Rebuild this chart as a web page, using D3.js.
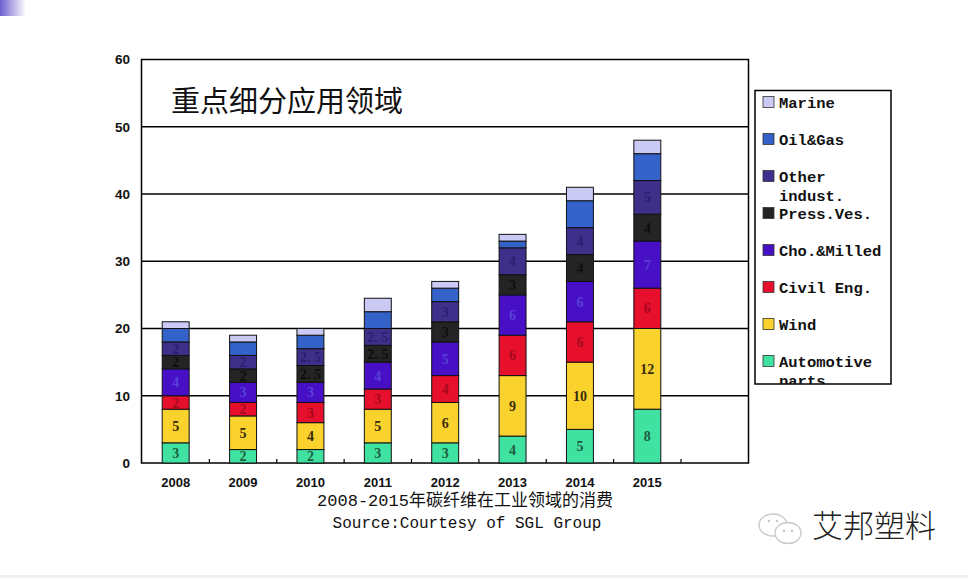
<!DOCTYPE html>
<html><head><meta charset="utf-8">
<script src="https://cdn.jsdelivr.net/npm/d3@7"></script>
<style>body{margin:0;background:#fff}svg{display:block}</style>
</head><body>
<svg id="c" width="968" height="578"></svg>
<script>
const years = ["2008","2009","2010","2011","2012","2013","2014","2015"];
const seriesNames = ["Automotive parts","Wind","Civil Eng.","Cho.&Milled","Press.Ves.","Other indust.","Oil&Gas","Marine"];
const automotive = [3,2,2,3,3,4,5,8];
const wind       = [5,5,4,5,6,9,10,12];
const civil      = [2,2,3,3,4,6,6,6];
const chopped    = [4,3,3,4,5,6,6,7];
const pressVes   = [2,2,2.5,2.5,3,3,4,4];
const otherInd   = [2,2,2.5,2.5,3,4,4,5];
const oilGas     = [2,2,2,2.5,2,1,4,4];
const marine     = [1,1,1,2,1,1,2,2];
const yTicks = [0,10,20,30,40,50,60];
const title = "重点细分应用领域";
const caption = "2008-2015年碳纤维在工业领域的消费";
const source = "Source:Courtesy of SGL Group";

const seriesValues = [automotive,wind,civil,chopped,pressVes,otherInd,oilGas,marine];
const colors = ["#40E2A2","#F9D22E","#E6102C","#4710C6","#242424","#3D2F8A","#3562C9","#CACAF4"];
const labelColors = ["#1d5e3e","#3a2a0c","#a8081c","#5a40d6","#0e0e0e","#2a2070",null,null];
const showLabel = [true,true,true,true,true,true,false,false];

const svg = d3.select("#c");

const defs = svg.append("defs");
const g1 = defs.append("linearGradient").attr("id","tl").attr("x1","0").attr("x2","1");
g1.append("stop").attr("offset","0").attr("stop-color","#6f5fd0");
g1.append("stop").attr("offset","1").attr("stop-color","#ffffff");
svg.append("rect").attr("x",0).attr("y",0).attr("width",26).attr("height",16).attr("fill","url(#tl)");
svg.append("rect").attr("x",0).attr("y",575).attr("width",968).attr("height",3).attr("fill","#f0f0f0");

const L = 141.5, R = 748.5, T = 59.5, B = 463;
const x = d3.scaleBand().domain(years).range([142,681]).paddingInner(0.6).paddingOuter(0.3);
const y = d3.scaleLinear().domain([0,60]).range([B,T]);

svg.append("g").selectAll("line").data(yTicks.filter(t=>t>0 && t<60)).join("line")
  .attr("x1",L).attr("x2",R).attr("y1",d=>y(d)).attr("y2",d=>y(d))
  .attr("stroke","#000").attr("stroke-width",1.3);

svg.append("rect").attr("x",L).attr("y",T).attr("width",R-L).attr("height",B-T)
  .attr("fill","none").attr("stroke","#000").attr("stroke-width",1.5);

const step = x.step();
svg.append("g").selectAll("line").data(years).join("line")
  .attr("x1",d=>x(d)+x.bandwidth()/2+step/2).attr("x2",d=>x(d)+x.bandwidth()/2+step/2)
  .attr("y1",B).attr("y2",B-4).attr("stroke","#000").attr("stroke-width",1.2);

svg.append("g").selectAll("text").data(yTicks).join("text")
  .attr("x",130).attr("y",d=>y(d)).attr("dy","0.36em").attr("text-anchor","end")
  .attr("font-family","Liberation Sans, Arial, sans-serif").attr("font-weight","bold")
  .attr("font-size",13.5).attr("fill","#111").text(d=>d);

svg.append("g").selectAll("text").data(years).join("text")
  .attr("x",d=>x(d)+x.bandwidth()/2).attr("y",482).attr("dy","0.36em").attr("text-anchor","middle")
  .attr("font-family","Liberation Sans, Arial, sans-serif").attr("font-weight","bold")
  .attr("font-size",13).attr("fill","#111").text(d=>d);

const table = years.map((yr,i)=>{const o={year:yr}; seriesNames.forEach((s,k)=>o[s]=seriesValues[k][i]); return o;});
const stack = d3.stack().keys(seriesNames)(table);

const layers = svg.append("g").selectAll("g").data(stack).join("g")
  .attr("fill",(d,i)=>colors[i]);
layers.selectAll("rect").data(d=>d).join("rect")
  .attr("x",d=>x(d.data.year)).attr("width",x.bandwidth())
  .attr("y",d=>y(d[1])).attr("height",d=>y(d[0])-y(d[1]))
  .attr("stroke","#111").attr("stroke-width",1);

stack.forEach((layer,i)=>{
  if(!showLabel[i]) return;
  svg.append("g").selectAll("text").data(layer).join("text")
    .attr("x",d=>x(d.data.year)+x.bandwidth()/2)
    .attr("y",d=>(y(d[0])+y(d[1]))/2).attr("dy","0.36em").attr("text-anchor","middle")
    .attr("font-family","Liberation Serif, DejaVu Serif, serif").attr("font-weight","bold")
    .attr("font-size",14).attr("fill",labelColors[i])
    .text(d=>{const v=d[1]-d[0]; return Number.isInteger(v)? String(v) : String(v).replace(".",". ");});
});

svg.append("text").attr("x",171).attr("y",102).attr("dy","0.36em")
  .attr("font-family","Noto Sans CJK SC, sans-serif").attr("font-size",29)
  .attr("fill","#111").text(title);

const lg = svg.append("g");
defs.append("clipPath").attr("id","lgclip").append("rect").attr("x",755).attr("y",90.5).attr("width",136).attr("height",293.5);
lg.append("rect").attr("x",755).attr("y",90.5).attr("width",136).attr("height",293.5)
  .attr("fill","#fff").attr("stroke","#000").attr("stroke-width",1.5);
const legendOrder = [7,6,5,4,3,2,1,0];
const rowY = [102,139,176,213,250,287,324,361];
const legendLines = {"Other indust.":["Other","indust."],"Automotive parts":["Automotive","parts"]};
const lgi = lg.append("g").attr("clip-path","url(#lgclip)");
legendOrder.forEach((k,r)=>{
  const cy = rowY[r];
  const name = seriesNames[k];
  const lines = legendLines[name] || [name];
  lgi.append("rect").attr("x",763).attr("y",cy-5.5).attr("width",11).attr("height",11)
    .attr("fill",colors[k]).attr("stroke","#333").attr("stroke-width",0.8);
  lines.forEach((ln,j)=>{
    lgi.append("text").attr("x",779).attr("y",cy + j*19.5).attr("dy","0.36em")
      .attr("font-family","Liberation Mono, Courier New, monospace").attr("font-weight","bold")
      .attr("font-size",15.5).attr("fill","#111").text(ln);
  });
});

svg.append("text").attr("x",465).attr("y",500).attr("dy","0.36em").attr("text-anchor","middle")
  .attr("font-family","Liberation Mono, Noto Sans CJK SC, monospace").attr("font-size",17)
  .attr("fill","#111").text(caption);
svg.append("text").attr("x",467).attr("y",522).attr("dy","0.36em").attr("text-anchor","middle")
  .attr("font-family","Liberation Mono, Courier New, monospace").attr("font-size",16)
  .attr("fill","#111").text(source);

const wm = svg.append("g").attr("fill","none").attr("stroke","#c8c8c8").attr("stroke-width",1.3);
wm.append("ellipse").attr("cx",773).attr("cy",525).attr("rx",14).attr("ry",11).attr("fill","#fff");
wm.append("ellipse").attr("cx",788).attr("cy",533).attr("rx",13).attr("ry",10.5).attr("fill","#fff");
[[769,521],[777,521],[784,531],[792,531]].forEach(p=>svg.append("circle").attr("cx",p[0]).attr("cy",p[1]).attr("r",1.3).attr("fill","#c8c8c8"));
svg.append("text").attr("x",812).attr("y",526).attr("dy","0.36em")
  .attr("font-family","Noto Sans CJK SC, sans-serif").attr("font-weight",300).attr("font-size",31)
  .attr("fill","#222").text("艾邦塑料");
</script>
</body></html>
